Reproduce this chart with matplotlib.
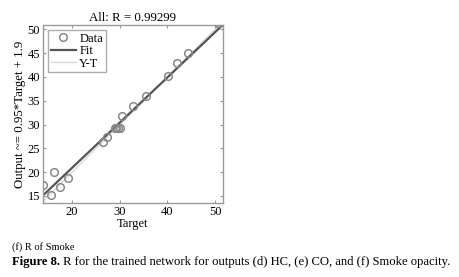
import numpy as np
import matplotlib.pyplot as plt

plt.rcParams['font.family'] = ['Liberation Serif', 'DejaVu Serif']

# data
target = [13.9, 15.6, 16.3, 17.5, 19.1, 26.4, 27.4, 29.0, 29.3, 29.6, 30.0,
          30.5, 32.7, 35.6, 40.1, 42.0, 44.4, 50.7]
output = [17.2, 15.1, 20.0, 16.8, 18.7, 26.4, 27.3, 29.2, 29.3, 29.2, 29.3,
          31.7, 33.8, 35.9, 40.2, 43.0, 45.0, 51.3]
fit_slope = 0.95
fit_icpt = 1.9
x_ticks = [20, 30, 40, 50]
y_ticks = [15, 20, 25, 30, 35, 40, 45, 50]
title = 'All: R = 0.99299'

fig = plt.figure(figsize=(4.6, 2.77), dpi=100)
ax = fig.add_axes([0.0935, 0.267, 0.3907, 0.6426])

xlim = (13.9, 51.6)
ylim = (13.5, 50.9)
xs = np.array(xlim)
ax.plot(target, output, 'o', mfc='none', mec='#888888', mew=1.1, ms=5.5, label='Data', zorder=3)
ax.plot(xs, fit_slope * xs + fit_icpt, color='#555555', lw=1.6, label='Fit', zorder=2)
ax.plot(xs, xs, color='#d8d8d8', lw=1.0, label='Y-T', zorder=1)

ax.set_xlim(*xlim)
ax.set_ylim(*ylim)
ax.set_xticks(x_ticks)
ax.set_yticks(y_ticks)
ax.tick_params(direction='in', length=2, color='#999999', labelsize=9,
               pad=2, top=True, right=True, labeltop=False, labelright=False)
for s in ax.spines.values():
    s.set_color('#999999')
    s.set_linewidth(1.0)

ax.set_title(title, fontsize=9.3, pad=3)
ax.set_xlabel('Target', fontsize=9, labelpad=0)
ax.set_ylabel('Output ~= 0.95*Target + 1.9', fontsize=9.3, labelpad=1)

leg = ax.legend(loc='upper left', fontsize=9, frameon=True, fancybox=False,
                borderpad=0.2, labelspacing=0.05, handlelength=2.0, handletextpad=0.3,
                borderaxespad=0.4)
leg.get_frame().set_edgecolor('#999999')
leg.get_frame().set_linewidth(1.0)

fig.text(12 / 460, 1 - 247 / 277, '(f) R of Smoke', fontsize=7.5, va='center')
t1 = fig.text(12 / 460, 1 - 262 / 277, 'Figure 8.', fontsize=9.1, fontweight='bold', va='center')
ax.annotate(' R for the trained network for outputs (d) HC, (e) CO, and (f) Smoke opacity.',
            xy=(1, 0.5), xycoords=t1, va='center', ha='left', fontsize=9.1,
            annotation_clip=False)

fig.savefig('out.png', dpi=100)
